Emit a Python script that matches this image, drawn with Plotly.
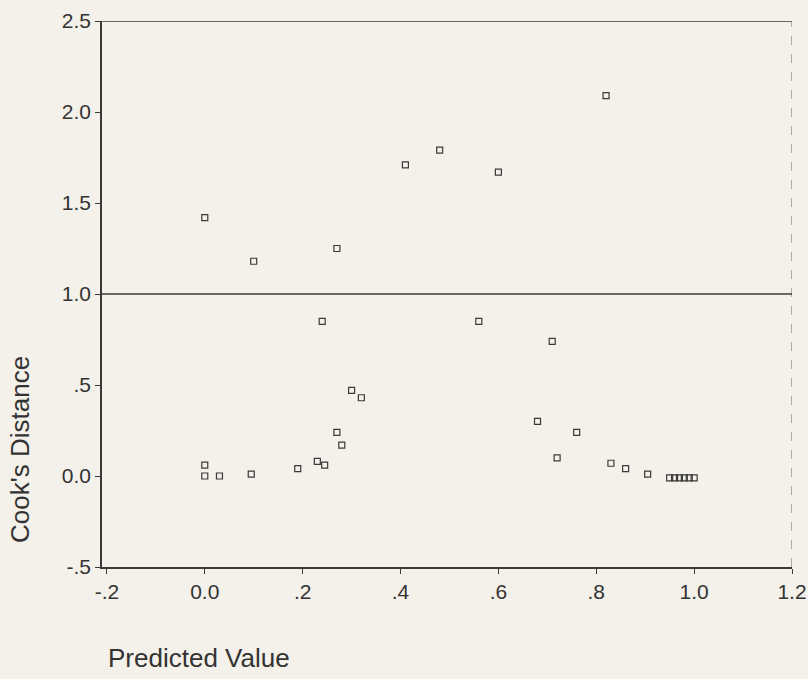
import plotly.graph_objects as go

predicted = [0.0, 0.10, 0.27, 0.41, 0.48, 0.60, 0.82, 0.24, 0.56, 0.71,
             0.30, 0.32, 0.27, 0.28, 0.68, 0.76, 0.72, 0.0, 0.0, 0.03,
             0.095, 0.19, 0.23, 0.245, 0.83, 0.86, 0.905, 0.95, 0.96, 0.97,
             0.98, 0.99, 1.0]
cooks = [1.42, 1.18, 1.25, 1.71, 1.79, 1.67, 2.09, 0.85, 0.85, 0.74,
         0.47, 0.43, 0.24, 0.17, 0.30, 0.24, 0.10, 0.06, 0.0, 0.0,
         0.01, 0.04, 0.08, 0.06, 0.07, 0.04, 0.01, -0.01, -0.01, -0.01,
         -0.01, -0.01, -0.01]

x_ticks = [-0.2, 0.0, 0.2, 0.4, 0.6, 0.8, 1.0, 1.2]
x_labels = ["-.2", "0.0", ".2", ".4", ".6", ".8", "1.0", "1.2"]
y_ticks = [-0.5, 0.0, 0.5, 1.0, 1.5, 2.0, 2.5]
y_labels = ["-.5", "0.0", ".5", "1.0", "1.5", "2.0", "2.5"]
ref_line = 1.0

bg = "#f3f1e9"
ink = "#3a3a3a"
x_lo, x_hi = -0.21, 1.2

fig = go.Figure()
fig.add_trace(go.Scatter(
    x=predicted, y=cooks, mode="markers",
    marker=dict(symbol="square-open", size=6, color=ink, line=dict(width=1.2, color=ink)),
    showlegend=False, hoverinfo="x+y"))

fig.update_layout(
    width=808, height=679,
    margin=dict(l=102, r=16, t=21, b=112),
    paper_bgcolor=bg, plot_bgcolor=bg,
    font=dict(family="Liberation Sans, Arial, sans-serif", size=21, color="#333"),
    xaxis=dict(range=[x_lo, x_hi], tickvals=x_ticks, ticktext=x_labels,
               showline=True, linecolor=ink, linewidth=1.5, ticks="outside",
               ticklen=5, tickcolor=ink, showgrid=False, zeroline=False,
               tickfont=dict(size=21), automargin=False),
    yaxis=dict(range=[-0.5, 2.5], tickvals=y_ticks, ticktext=y_labels,
               showline=True, linecolor=ink, linewidth=1.5, ticks="outside",
               ticklen=5, tickcolor=ink, showgrid=False, zeroline=False,
               tickfont=dict(size=21), automargin=False),
    shapes=[
        dict(type="line", xref="x", yref="y", x0=x_lo, x1=x_hi, y0=2.5, y1=2.5,
             line=dict(color=ink, width=1.3)),
        dict(type="line", xref="x", yref="y", x0=x_hi, x1=x_hi, y0=-0.5, y1=2.5,
             line=dict(color="#666", width=1, dash="dash")),
        dict(type="line", xref="x", yref="y", x0=x_lo, x1=x_hi, y0=ref_line, y1=ref_line,
             line=dict(color=ink, width=1.3)),
    ],
    annotations=[
        dict(text="Cook's Distance", textangle=-90, xref="paper", yref="paper",
             x=-0.119, y=0.216, xanchor="center", yanchor="middle", showarrow=False,
             font=dict(size=26, color="#333")),
        dict(text="Predicted Value", xref="paper", yref="paper",
             x=0.006, y=-0.167, xanchor="left", yanchor="middle", showarrow=False,
             font=dict(size=26, color="#333")),
    ],
)

fig.write_html("out.html", config={"displayModeBar": False},
               post_script="document.body.style.margin='0px';document.body.style.overflow='hidden';")
